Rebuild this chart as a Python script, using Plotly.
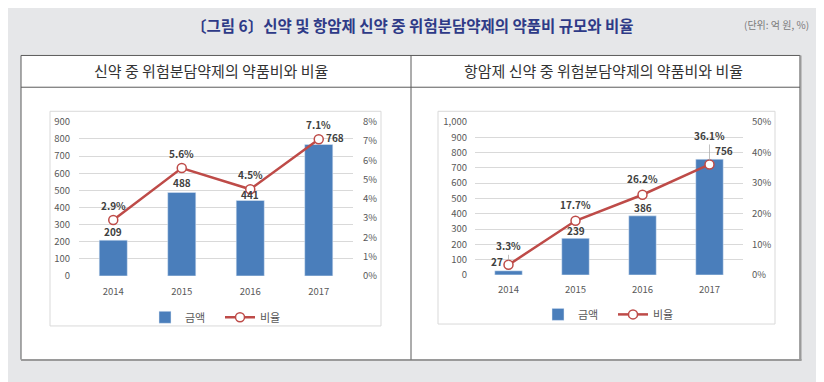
import plotly.graph_objects as go

# ---- data ----
years = ["2014", "2015", "2016", "2017"]
left_amount = [209, 488, 441, 768]
left_ratio = [2.9, 5.6, 4.5, 7.1]
right_amount = [27, 239, 386, 756]
right_ratio = [3.3, 17.7, 26.2, 36.1]

title_text = "〔그림 6〕신약 및 항암제 신약 중 위험분담약제의 약품비 규모와 비율"
unit_text = "(단위: 억 원, %)"
left_header = "신약 중 위험분담약제의 약품비와 비율"
right_header = "항암제 신약 중 위험분담약제의 약품비와 비율"
bar_name = "금액"
line_name = "비율"

# page has an 8px body margin; figure is sized to fit the remaining area
OFF = 8
W, H = 824 - OFF, 382 - OFF
FONT = "Noto Sans CJK KR"
BAR_C = "#4a7ebb"
LINE_C = "#be4b48"
TICK_C = "#595959"
LABEL_C = "#404040"
BG = "#e6e7e9"


def px(x):
    return (x - OFF) / W


def py(y):
    return (H - (y - OFF)) / H


fig = go.Figure()

line_style = dict(color=LINE_C, width=2.5)
marker_style = dict(symbol="circle", size=9, color="white", line=dict(color=LINE_C, width=1.5))

fig.add_trace(go.Bar(x=years, y=left_amount, name=bar_name, marker_color=BAR_C,
                     width=0.41, xaxis="x", yaxis="y", legend="legend"))
fig.add_trace(go.Scatter(x=years, y=left_ratio, name=line_name, mode="lines+markers",
                         line=line_style, marker=marker_style,
                         xaxis="x", yaxis="y2", legend="legend"))
fig.add_trace(go.Bar(x=years, y=right_amount, name=bar_name, marker_color=BAR_C,
                     width=0.41, xaxis="x2", yaxis="y3", legend="legend2"))
fig.add_trace(go.Scatter(x=years, y=right_ratio, name=line_name, mode="lines+markers",
                         line=line_style, marker=marker_style,
                         xaxis="x2", yaxis="y4", legend="legend2"))

tickfont = dict(family=FONT, size=9.5, color=TICK_C)
grid = "#d9d9d9"
legfont = dict(family=FONT, size=11, color=TICK_C)

fig.update_layout(
    width=W, height=H,
    margin=dict(l=0, r=0, t=0, b=0),
    paper_bgcolor=BG,
    plot_bgcolor="rgba(0,0,0,0)",
    font=dict(family=FONT, color=TICK_C),
    xaxis=dict(domain=[px(79), px(353)], anchor="y", range=[-0.5, 3.5], type="category",
               showgrid=False, showline=False, ticks="", tickfont=tickfont, ticklabelstandoff=9),
    yaxis=dict(domain=[py(278), py(118)], anchor="x", range=[0, 900], dtick=100,
               showgrid=True, gridcolor=grid, gridwidth=1, zeroline=False,
               tickfont=tickfont, ticklabelstandoff=8),
    yaxis2=dict(domain=[py(278), py(118)], anchor="x", overlaying="y", side="right",
                range=[0, 8], dtick=1, ticksuffix="%", showgrid=False, zeroline=False,
                tickfont=tickfont, ticklabelstandoff=9),
    xaxis2=dict(domain=[px(475), px(743)], anchor="y3", range=[-0.5, 3.5], type="category",
                showgrid=False, showline=False, ticks="", tickfont=tickfont, ticklabelstandoff=8),
    yaxis3=dict(domain=[py(277), py(118)], anchor="x2", range=[0, 1000], dtick=100,
                tickformat=",d", showgrid=True, gridcolor=grid, gridwidth=1, zeroline=False,
                tickfont=tickfont, ticklabelstandoff=7),
    yaxis4=dict(domain=[py(277), py(118)], anchor="x2", overlaying="y3", side="right",
                range=[0, 50], dtick=10, ticksuffix="%", showgrid=False, zeroline=False,
                tickfont=tickfont, ticklabelstandoff=8),
    legend=dict(orientation="h", x=px(220), y=py(321), xanchor="center", yanchor="middle",
                bgcolor="rgba(0,0,0,0)", font=legfont, entrywidth=30, itemwidth=30,
                traceorder="normal"),
    legend2=dict(orientation="h", x=px(613), y=py(318), xanchor="center", yanchor="middle",
                 bgcolor="rgba(0,0,0,0)", font=legfont, entrywidth=30, itemwidth=30,
                 traceorder="normal"),
    showlegend=True,
)

# ---- table / frame shapes ----
DARK = "#5a5a5a"
shapes = [
    dict(type="rect", xref="paper", yref="paper", x0=px(21), x1=px(800), y0=py(365), y1=py(49),
         fillcolor="white", line=dict(color=DARK, width=1), layer="below"),
    dict(type="line", xref="paper", yref="paper", x0=px(21), x1=px(801.5), y0=py(365.5), y1=py(365.5),
         line=dict(color="#9a9a9a", width=2), layer="below"),
    dict(type="line", xref="paper", yref="paper", x0=px(800.5), x1=px(800.5), y0=py(49), y1=py(366),
         line=dict(color="#9a9a9a", width=2), layer="below"),
    dict(type="line", xref="paper", yref="paper", x0=px(21), x1=px(800), y0=py(82), y1=py(82),
         line=dict(color=DARK, width=1), layer="below"),
    dict(type="line", xref="paper", yref="paper", x0=px(411), x1=px(411), y0=py(365), y1=py(49),
         line=dict(color=DARK, width=1), layer="below"),
    dict(type="rect", xref="paper", yref="paper", x0=px(50), x1=px(381), y0=py(330), y1=py(107),
         line=dict(color="#d9d9d9", width=1), fillcolor="white", layer="below"),
    dict(type="rect", xref="paper", yref="paper", x0=px(438), x1=px(775), y0=py(328), y1=py(107),
         line=dict(color="#d9d9d9", width=1), fillcolor="white", layer="below"),
]
fig.update_layout(shapes=shapes)

annotations = [
    dict(text=title_text, xref="paper", yref="paper", x=px(412), y=py(17),
         xanchor="center", yanchor="middle", showarrow=False,
         font=dict(family=FONT, size=15.5, color="#2e3a87", weight="bold")),
    dict(text=unit_text, xref="paper", yref="paper", x=px(811), y=py(17),
         xanchor="right", yanchor="middle", showarrow=False,
         font=dict(family=FONT, size=10, color="#7a7a7a")),
    dict(text=left_header, xref="paper", yref="paper", x=px(211), y=py(65),
         xanchor="center", yanchor="middle", showarrow=False,
         font=dict(family=FONT, size=15, color="#333333")),
    dict(text=right_header, xref="paper", yref="paper", x=px(603), y=py(65),
         xanchor="center", yanchor="middle", showarrow=False,
         font=dict(family=FONT, size=15, color="#333333")),
]

lab_font = dict(family=FONT, size=10, color=LABEL_C, weight="bold")

# ---- left chart data labels ----
left_bar_shift = [9, 10, 6]
for i in range(3):
    annotations.append(dict(text=f"{left_amount[i]}", x=i, y=left_amount[i], xref="x", yref="y",
                            yshift=left_bar_shift[i], showarrow=False, font=lab_font,
                            xanchor="center", yanchor="middle"))
annotations.append(dict(text=f"{left_amount[3]}", x=3, y=left_ratio[3], xref="x", yref="y2",
                        xshift=5, yshift=2, showarrow=False, font=lab_font,
                        xanchor="left", yanchor="middle"))
for i in range(4):
    annotations.append(dict(text=f"{left_ratio[i]}%", x=i, y=left_ratio[i], xref="x", yref="y2",
                            yshift=15, showarrow=False, font=lab_font,
                            xanchor="center", yanchor="middle"))

# ---- right chart data labels ----
annotations.append(dict(text=f"{right_amount[0]}", x=0, y=right_ratio[0], xref="x2", yref="y4",
                        xshift=-4, yshift=3, showarrow=False, font=lab_font,
                        xanchor="right", yanchor="middle"))
for i in (1, 2):
    annotations.append(dict(text=f"{right_amount[i]}", x=i, y=right_amount[i], xref="x2", yref="y3",
                            yshift=8, showarrow=False, font=lab_font,
                            xanchor="center", yanchor="middle"))
annotations.append(dict(text=f"{right_amount[3]}", x=3, y=right_ratio[3], xref="x2", yref="y4",
                        xshift=3, yshift=14, showarrow=False, font=lab_font,
                        xanchor="left", yanchor="middle"))
annotations.append(dict(text=f"{right_ratio[0]}%", x=0, y=right_ratio[0], xref="x2", yref="y4",
                        ax=0, ay=-19, showarrow=True, arrowhead=0, arrowwidth=0.7,
                        arrowcolor="#a6a6a6", standoff=4, font=lab_font))
for i in (1, 2):
    annotations.append(dict(text=f"{right_ratio[i]}%", x=i, y=right_ratio[i], xref="x2", yref="y4",
                            yshift=16, showarrow=False, font=lab_font,
                            xanchor="center", yanchor="middle"))
annotations.append(dict(text=f"{right_ratio[3]}%", x=3, y=right_ratio[3], xref="x2", yref="y4",
                        ax=0, ay=-29, showarrow=True, arrowhead=0, arrowwidth=0.7,
                        arrowcolor="#a6a6a6", standoff=4, font=lab_font))

fig.update_layout(annotations=annotations)

fig.write_html("out.html")
